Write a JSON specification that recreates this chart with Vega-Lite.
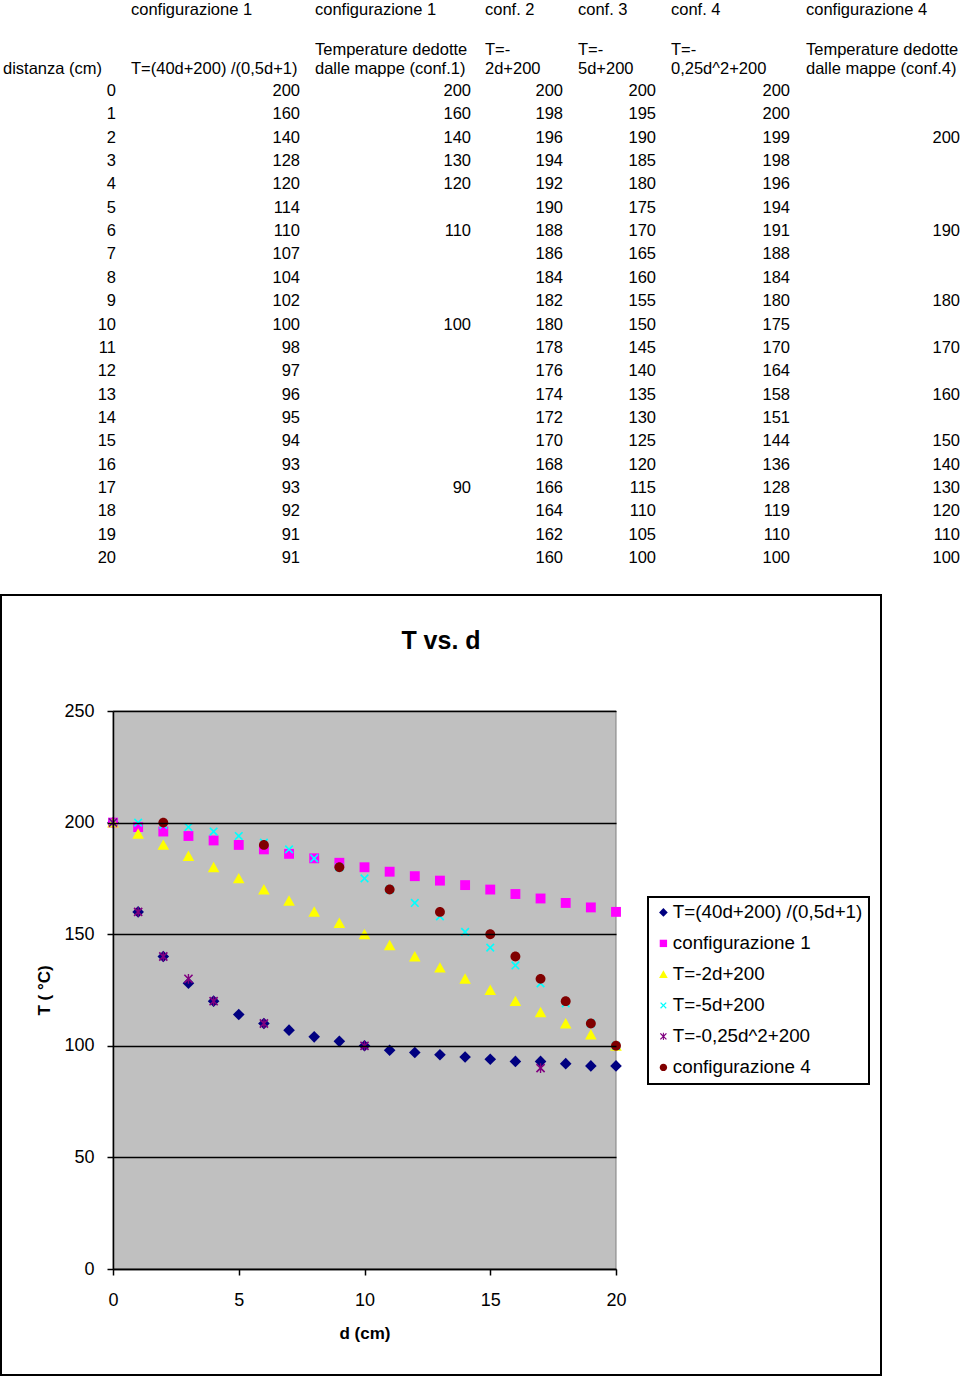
{
  "$schema": "https://vega.github.io/schema/vega-lite/v6.json",
  "padding": 0,
  "background": "white",
  "spacing": 15,
  "bounds": "flush",
  "config": {
    "view": {"stroke": null},
    "font": "Liberation Sans",
    "text": {"font": "Liberation Sans"},
    "legend": {"strokeWidth": 2}
  },
  "datasets": {
    "headers": [
      {"c": 1, "r": 0, "label": "configurazione 1"},
      {"c": 2, "r": 0, "label": "configurazione 1"},
      {"c": 3, "r": 0, "label": "conf. 2"},
      {"c": 4, "r": 0, "label": "conf. 3"},
      {"c": 5, "r": 0, "label": "conf. 4"},
      {"c": 6, "r": 0, "label": "configurazione 4"},
      {"c": 2, "r": 1, "label": "Temperature dedotte"},
      {"c": 3, "r": 1, "label": "T=-"},
      {"c": 4, "r": 1, "label": "T=-"},
      {"c": 5, "r": 1, "label": "T=-"},
      {"c": 6, "r": 1, "label": "Temperature dedotte"},
      {"c": 0, "r": 2, "label": "distanza (cm)"},
      {"c": 1, "r": 2, "label": "T=(40d+200) /(0,5d+1)"},
      {"c": 2, "r": 2, "label": "dalle mappe (conf.1)"},
      {"c": 3, "r": 2, "label": "2d+200"},
      {"c": 4, "r": 2, "label": "5d+200"},
      {"c": 5, "r": 2, "label": "0,25d^2+200"},
      {"c": 6, "r": 2, "label": "dalle mappe (conf.4)"}
    ],
    "cells": [
      {"d": 0, "c": 0, "v": 0}, {"d": 1, "c": 0, "v": 1}, {"d": 2, "c": 0, "v": 2}, {"d": 3, "c": 0, "v": 3},
      {"d": 4, "c": 0, "v": 4}, {"d": 5, "c": 0, "v": 5}, {"d": 6, "c": 0, "v": 6}, {"d": 7, "c": 0, "v": 7},
      {"d": 8, "c": 0, "v": 8}, {"d": 9, "c": 0, "v": 9}, {"d": 10, "c": 0, "v": 10}, {"d": 11, "c": 0, "v": 11},
      {"d": 12, "c": 0, "v": 12}, {"d": 13, "c": 0, "v": 13}, {"d": 14, "c": 0, "v": 14}, {"d": 15, "c": 0, "v": 15},
      {"d": 16, "c": 0, "v": 16}, {"d": 17, "c": 0, "v": 17}, {"d": 18, "c": 0, "v": 18}, {"d": 19, "c": 0, "v": 19},
      {"d": 20, "c": 0, "v": 20},

      {"d": 0, "c": 1, "v": 200, "s": "T=(40d+200) /(0,5d+1)"},
      {"d": 1, "c": 1, "v": 160, "s": "T=(40d+200) /(0,5d+1)"},
      {"d": 2, "c": 1, "v": 140, "s": "T=(40d+200) /(0,5d+1)"},
      {"d": 3, "c": 1, "v": 128, "s": "T=(40d+200) /(0,5d+1)"},
      {"d": 4, "c": 1, "v": 120, "s": "T=(40d+200) /(0,5d+1)"},
      {"d": 5, "c": 1, "v": 114, "s": "T=(40d+200) /(0,5d+1)"},
      {"d": 6, "c": 1, "v": 110, "s": "T=(40d+200) /(0,5d+1)"},
      {"d": 7, "c": 1, "v": 107, "s": "T=(40d+200) /(0,5d+1)"},
      {"d": 8, "c": 1, "v": 104, "s": "T=(40d+200) /(0,5d+1)"},
      {"d": 9, "c": 1, "v": 102, "s": "T=(40d+200) /(0,5d+1)"},
      {"d": 10, "c": 1, "v": 100, "s": "T=(40d+200) /(0,5d+1)"},
      {"d": 11, "c": 1, "v": 98, "s": "T=(40d+200) /(0,5d+1)"},
      {"d": 12, "c": 1, "v": 97, "s": "T=(40d+200) /(0,5d+1)"},
      {"d": 13, "c": 1, "v": 96, "s": "T=(40d+200) /(0,5d+1)"},
      {"d": 14, "c": 1, "v": 95, "s": "T=(40d+200) /(0,5d+1)"},
      {"d": 15, "c": 1, "v": 94, "s": "T=(40d+200) /(0,5d+1)"},
      {"d": 16, "c": 1, "v": 93, "s": "T=(40d+200) /(0,5d+1)"},
      {"d": 17, "c": 1, "v": 93, "s": "T=(40d+200) /(0,5d+1)"},
      {"d": 18, "c": 1, "v": 92, "s": "T=(40d+200) /(0,5d+1)"},
      {"d": 19, "c": 1, "v": 91, "s": "T=(40d+200) /(0,5d+1)"},
      {"d": 20, "c": 1, "v": 91, "s": "T=(40d+200) /(0,5d+1)"},

      {"d": 0, "c": 3, "v": 200, "s": "configurazione 1"},
      {"d": 1, "c": 3, "v": 198, "s": "configurazione 1"},
      {"d": 2, "c": 3, "v": 196, "s": "configurazione 1"},
      {"d": 3, "c": 3, "v": 194, "s": "configurazione 1"},
      {"d": 4, "c": 3, "v": 192, "s": "configurazione 1"},
      {"d": 5, "c": 3, "v": 190, "s": "configurazione 1"},
      {"d": 6, "c": 3, "v": 188, "s": "configurazione 1"},
      {"d": 7, "c": 3, "v": 186, "s": "configurazione 1"},
      {"d": 8, "c": 3, "v": 184, "s": "configurazione 1"},
      {"d": 9, "c": 3, "v": 182, "s": "configurazione 1"},
      {"d": 10, "c": 3, "v": 180, "s": "configurazione 1"},
      {"d": 11, "c": 3, "v": 178, "s": "configurazione 1"},
      {"d": 12, "c": 3, "v": 176, "s": "configurazione 1"},
      {"d": 13, "c": 3, "v": 174, "s": "configurazione 1"},
      {"d": 14, "c": 3, "v": 172, "s": "configurazione 1"},
      {"d": 15, "c": 3, "v": 170, "s": "configurazione 1"},
      {"d": 16, "c": 3, "v": 168, "s": "configurazione 1"},
      {"d": 17, "c": 3, "v": 166, "s": "configurazione 1"},
      {"d": 18, "c": 3, "v": 164, "s": "configurazione 1"},
      {"d": 19, "c": 3, "v": 162, "s": "configurazione 1"},
      {"d": 20, "c": 3, "v": 160, "s": "configurazione 1"},

      {"d": 0, "c": 4, "v": 200, "s": "T=-2d+200"},
      {"d": 1, "c": 4, "v": 195, "s": "T=-2d+200"},
      {"d": 2, "c": 4, "v": 190, "s": "T=-2d+200"},
      {"d": 3, "c": 4, "v": 185, "s": "T=-2d+200"},
      {"d": 4, "c": 4, "v": 180, "s": "T=-2d+200"},
      {"d": 5, "c": 4, "v": 175, "s": "T=-2d+200"},
      {"d": 6, "c": 4, "v": 170, "s": "T=-2d+200"},
      {"d": 7, "c": 4, "v": 165, "s": "T=-2d+200"},
      {"d": 8, "c": 4, "v": 160, "s": "T=-2d+200"},
      {"d": 9, "c": 4, "v": 155, "s": "T=-2d+200"},
      {"d": 10, "c": 4, "v": 150, "s": "T=-2d+200"},
      {"d": 11, "c": 4, "v": 145, "s": "T=-2d+200"},
      {"d": 12, "c": 4, "v": 140, "s": "T=-2d+200"},
      {"d": 13, "c": 4, "v": 135, "s": "T=-2d+200"},
      {"d": 14, "c": 4, "v": 130, "s": "T=-2d+200"},
      {"d": 15, "c": 4, "v": 125, "s": "T=-2d+200"},
      {"d": 16, "c": 4, "v": 120, "s": "T=-2d+200"},
      {"d": 17, "c": 4, "v": 115, "s": "T=-2d+200"},
      {"d": 18, "c": 4, "v": 110, "s": "T=-2d+200"},
      {"d": 19, "c": 4, "v": 105, "s": "T=-2d+200"},
      {"d": 20, "c": 4, "v": 100, "s": "T=-2d+200"},

      {"d": 0, "c": 5, "v": 200, "s": "T=-5d+200"},
      {"d": 1, "c": 5, "v": 200, "s": "T=-5d+200"},
      {"d": 2, "c": 5, "v": 199, "s": "T=-5d+200"},
      {"d": 3, "c": 5, "v": 198, "s": "T=-5d+200"},
      {"d": 4, "c": 5, "v": 196, "s": "T=-5d+200"},
      {"d": 5, "c": 5, "v": 194, "s": "T=-5d+200"},
      {"d": 6, "c": 5, "v": 191, "s": "T=-5d+200"},
      {"d": 7, "c": 5, "v": 188, "s": "T=-5d+200"},
      {"d": 8, "c": 5, "v": 184, "s": "T=-5d+200"},
      {"d": 9, "c": 5, "v": 180, "s": "T=-5d+200"},
      {"d": 10, "c": 5, "v": 175, "s": "T=-5d+200"},
      {"d": 11, "c": 5, "v": 170, "s": "T=-5d+200"},
      {"d": 12, "c": 5, "v": 164, "s": "T=-5d+200"},
      {"d": 13, "c": 5, "v": 158, "s": "T=-5d+200"},
      {"d": 14, "c": 5, "v": 151, "s": "T=-5d+200"},
      {"d": 15, "c": 5, "v": 144, "s": "T=-5d+200"},
      {"d": 16, "c": 5, "v": 136, "s": "T=-5d+200"},
      {"d": 17, "c": 5, "v": 128, "s": "T=-5d+200"},
      {"d": 18, "c": 5, "v": 119, "s": "T=-5d+200"},
      {"d": 19, "c": 5, "v": 110, "s": "T=-5d+200"},
      {"d": 20, "c": 5, "v": 100, "s": "T=-5d+200"},

      {"d": 0, "c": 2, "v": 200, "s": "T=-0,25d^2+200"},
      {"d": 1, "c": 2, "v": 160, "s": "T=-0,25d^2+200"},
      {"d": 2, "c": 2, "v": 140, "s": "T=-0,25d^2+200"},
      {"d": 3, "c": 2, "v": 130, "s": "T=-0,25d^2+200"},
      {"d": 4, "c": 2, "v": 120, "s": "T=-0,25d^2+200"},
      {"d": 6, "c": 2, "v": 110, "s": "T=-0,25d^2+200"},
      {"d": 10, "c": 2, "v": 100, "s": "T=-0,25d^2+200"},
      {"d": 17, "c": 2, "v": 90, "s": "T=-0,25d^2+200"},

      {"d": 2, "c": 6, "v": 200, "s": "configurazione 4"},
      {"d": 6, "c": 6, "v": 190, "s": "configurazione 4"},
      {"d": 9, "c": 6, "v": 180, "s": "configurazione 4"},
      {"d": 11, "c": 6, "v": 170, "s": "configurazione 4"},
      {"d": 13, "c": 6, "v": 160, "s": "configurazione 4"},
      {"d": 15, "c": 6, "v": 150, "s": "configurazione 4"},
      {"d": 16, "c": 6, "v": 140, "s": "configurazione 4"},
      {"d": 17, "c": 6, "v": 130, "s": "configurazione 4"},
      {"d": 18, "c": 6, "v": 120, "s": "configurazione 4"},
      {"d": 19, "c": 6, "v": 110, "s": "configurazione 4"},
      {"d": 20, "c": 6, "v": 100, "s": "configurazione 4"}
    ]
  },
  "vconcat": [
    {
      "width": 960,
      "height": 580,
      "layer": [
        {
          "data": {"name": "cells"},
          "mark": {"type": "text", "align": "right", "baseline": "middle", "fontSize": 16.5, "color": "black", "font": "Liberation Sans"},
          "encoding": {
            "x": {"field": "c", "type": "quantitative", "axis": null,
                  "scale": {"domain": [0, 1, 2, 3, 4, 5, 6], "range": [115, 299, 470, 562, 655, 789, 959], "nice": false, "zero": false}},
            "y": {"field": "d", "type": "quantitative", "axis": null,
                  "scale": {"domain": [0, 20], "range": [91, 558], "nice": false, "zero": false}},
            "text": {"field": "v", "type": "nominal"}
          }
        },
        {
          "data": {"name": "headers"},
          "mark": {"type": "text", "align": "left", "baseline": "bottom", "fontSize": 16.5, "color": "black", "font": "Liberation Sans"},
          "encoding": {
            "x": {"field": "c", "type": "quantitative", "axis": null,
                  "scale": {"domain": [0, 1, 2, 3, 4, 5, 6], "range": [2, 130, 314, 484, 577, 670, 805], "nice": false, "zero": false}},
            "y": {"field": "r", "type": "quantitative", "axis": null,
                  "scale": {"domain": [0, 1, 2], "range": [18, 58, 77], "nice": false, "zero": false}},
            "text": {"field": "label", "type": "nominal"}
          }
        }
      ],
      "resolve": {"scale": {"x": "independent", "y": "independent"}}
    },
    {
      "width": 880,
      "height": 780,
      "view": {"stroke": "black", "strokeWidth": 2, "fill": "white"},
      "title": {
        "text": "T vs. d", "font": "Liberation Sans", "fontSize": 25, "fontWeight": "bold", "color": "black",
        "anchor": "middle", "frame": "group", "offset": -59
      },
      "layer": [
        {
          "data": {"values": [{}]},
          "mark": {"type": "rect", "fill": "#C0C0C0", "stroke": "#808080", "strokeWidth": 1},
          "encoding": {
            "x": {"datum": 0, "type": "quantitative"},
            "x2": {"datum": 20},
            "y": {"datum": 0, "type": "quantitative"},
            "y2": {"datum": 250}
          }
        },
        {
          "data": {"name": "cells"},
          "transform": [{"filter": "datum.c > 0"}],
          "mark": {"type": "point", "filled": true, "opacity": 1, "size": 135, "strokeWidth": 0},
          "encoding": {
            "x": {
              "field": "d", "type": "quantitative",
              "scale": {"domain": [0, 20], "range": [112, 615], "nice": false, "zero": false},
              "axis": {
                "values": [0, 5, 10, 15, 20], "offset": -106, "title": "d (cm)", "grid": false,
                "labelFlush": false, "labelAngle": 0,
                "domainColor": "black", "domainWidth": 1.5, "tickColor": "black", "tickWidth": 1.5, "tickSize": 6,
                "labelFont": "Liberation Sans", "labelFontSize": 18, "labelColor": "black", "labelPadding": 16,
                "titleFont": "Liberation Sans", "titleFontSize": 17, "titleFontWeight": "bold", "titleColor": "black", "titlePadding": 16,
                "zindex": 1
              }
            },
            "y": {
              "field": "v", "type": "quantitative",
              "scale": {"domain": [0, 250], "range": [674, 116], "nice": false, "zero": false},
              "axis": {
                "values": [0, 50, 100, 150, 200, 250], "offset": -112, "title": "T ( °C)",
                "grid": true, "gridColor": "black", "gridWidth": 1.5, "gridOpacity": 1,
                "domainColor": "black", "domainWidth": 1.5, "tickColor": "black", "tickWidth": 1.5, "tickSize": 6,
                "labelFont": "Liberation Sans", "labelFontSize": 18, "labelColor": "black", "labelPadding": 13,
                "titleFont": "Liberation Sans", "titleFontSize": 17, "titleFontWeight": "bold", "titleColor": "black", "titlePadding": 10,
                "zindex": 1
              }
            },
            "color": {
              "field": "s", "type": "nominal",
              "scale": {
                "domain": ["T=(40d+200) /(0,5d+1)", "configurazione 1", "T=-2d+200", "T=-5d+200", "T=-0,25d^2+200", "configurazione 4"],
                "range": ["#000080", "#FF00FF", "#FFFF00", "#00FFFF", "#800080", "#800000"]
              },
              "legend": {
                "title": null, "orient": "none", "legendX": 647, "legendY": 897,
                "strokeColor": "black", "fillColor": "white", "padding": 6,
                "labelFont": "Liberation Sans", "labelFontSize": 18.8, "labelColor": "black", "labelLimit": 0,
                "symbolSize": 75, "symbolStrokeWidth": 0, "rowPadding": 11, "labelOffset": 0
              }
            },
            "shape": {
              "field": "s", "type": "nominal",
              "scale": {
                "domain": ["T=(40d+200) /(0,5d+1)", "configurazione 1", "T=-2d+200", "T=-5d+200", "T=-0,25d^2+200", "configurazione 4"],
                "range": [
                  "M0,-1L1,0L0,1L-1,0Z",
                  "M-0.85,-0.85L0.85,-0.85L0.85,0.85L-0.85,0.85Z",
                  "M0,-0.95L1,0.85L-1,0.85Z",
                  "M-0.75,-0.55L-0.55,-0.75L0,-0.2L0.55,-0.75L0.75,-0.55L0.2,0L0.75,0.55L0.55,0.75L0,0.2L-0.55,0.75L-0.75,0.55L-0.2,0Z",
                  "M-0.8,-0.6L-0.6,-0.8L0,-0.2L0.6,-0.8L0.8,-0.6L0.2,0L0.8,0.6L0.6,0.8L0,0.2L-0.6,0.8L-0.8,0.6L-0.2,0ZM-0.12,-0.85L0.12,-0.85L0.12,0.85L-0.12,0.85Z",
                  "M0,-0.85A0.85,0.85,0,1,1,0,0.85A0.85,0.85,0,1,1,0,-0.85Z"
                ]
              }
            }
          }
        }
      ]
    }
  ]
}
